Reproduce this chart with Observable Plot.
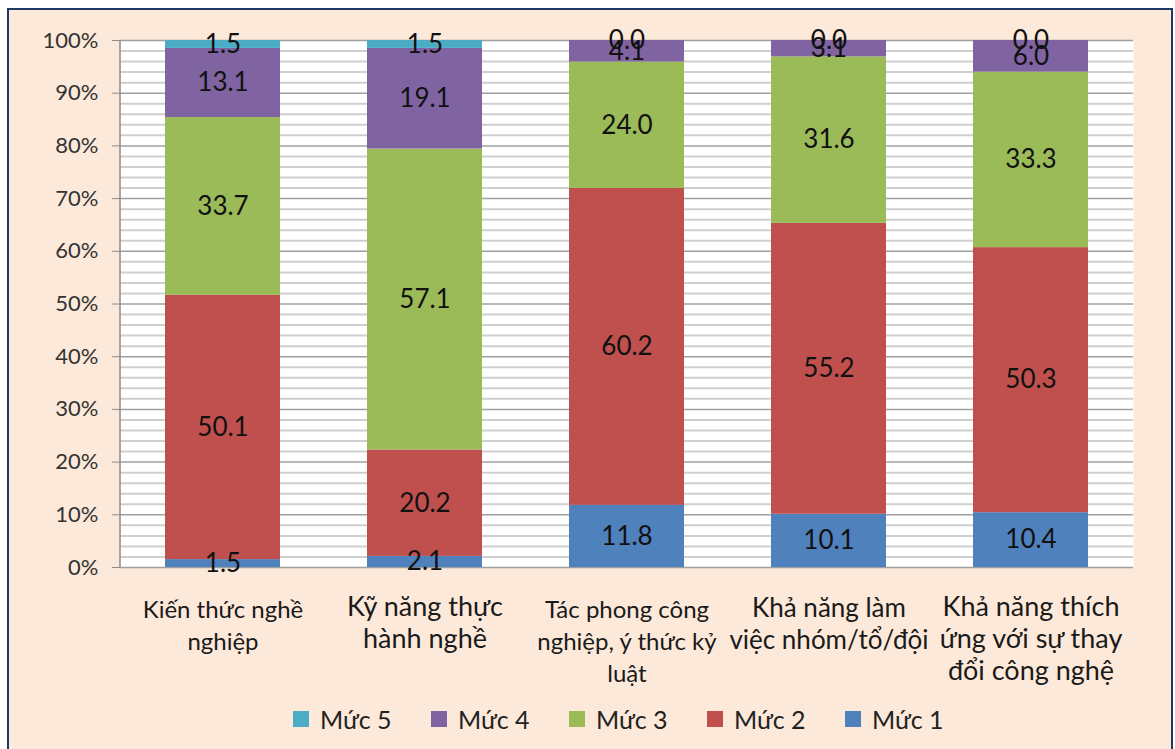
<!DOCTYPE html>
<html>
<head>
<meta charset="utf-8">
<script src="https://cdn.jsdelivr.net/npm/d3@7"></script>
<script src="https://cdn.jsdelivr.net/npm/@observablehq/plot@0.6"></script>
<style>
  html, body { margin: 0; padding: 0; background: #ffffff; width: 1175px; height: 749px; overflow: hidden; }
  #frame { position: absolute; left: 7px; top: 8px; width: 1162px; height: 760px; border: 2px solid #1f3864; background: #fde9d9; }
  #chart { position: absolute; left: 0; top: 0; }
  #legend { position: absolute; left: 284px; top: 694px; display: flex; font-family: Lato, sans-serif; font-size: 25px; color: #222; }
  #legend .item { width: 138px; display: flex; align-items: center; }
  #legend .sw { width: 16px; height: 16px; margin-right: 11px; }
</style>
</head>
<body>
<div id="frame">
  <div id="chart"></div>
  <div id="legend"></div>
</div>
<script>
const categories = [
  "Kiến thức nghề\nnghiệp",
  "Kỹ năng thực\nhành nghề",
  "Tác phong công\nnghiệp, ý thức kỷ\nluật",
  "Khả năng làm\nviệc nhóm/tổ/đội",
  "Khả năng thích\nứng với sự thay\nđổi công nghệ"
];
const levels = ["Mức 1", "Mức 2", "Mức 3", "Mức 4", "Mức 5"];
const muc1 = [1.5, 2.1, 11.8, 10.1, 10.4];
const muc2 = [50.1, 20.2, 60.2, 55.2, 50.3];
const muc3 = [33.7, 57.1, 24.0, 31.6, 33.3];
const muc4 = [13.1, 19.1, 4.1, 3.1, 6.0];
const muc5 = [1.5, 1.5, 0.0, 0.0, 0.0];
const legendOrder = ["Mức 5", "Mức 4", "Mức 3", "Mức 2", "Mức 1"];

// styles
const levelColors = ["#4f81bd", "#c0504d", "#9bbb59", "#8064a2", "#4bacc6"];
const labelSizes = [24, 27, 24, 26, 27];

const series = [muc1, muc2, muc3, muc4, muc5];
const rows = [];
categories.forEach((c, i) => {
  levels.forEach((l, j) => rows.push({category: c, level: l, value: series[j][i]}));
});

const W = 1160, H = 700;
const mL = 111, mT = 30, mR = 36, mB = 143;

const axisLine = (index, scales, values, dims) => {
  const g = d3.create("svg:g");
  g.append("line")
    .attr("x1", dims.marginLeft).attr("x2", dims.marginLeft)
    .attr("y1", dims.marginTop).attr("y2", dims.height - dims.marginBottom)
    .attr("stroke", "#8c8c8c").attr("stroke-width", 1.5);
  return g.node();
};

const categoryLabelMarks = categories.map((c, i) => {
  const s = labelSizes[i];
  return Plot.text([c], {
    x: d => d, frameAnchor: "bottom", lineAnchor: "top",
    dy: 45 - 0.7 * s, fontSize: s, lineHeight: 32 / s, fill: "#1a1a1a"
  });
});

const chart = Plot.plot({
  width: W,
  height: H,
  marginLeft: mL,
  marginTop: mT,
  marginRight: mR,
  marginBottom: mB,
  style: {background: "transparent", fontFamily: "Lato, sans-serif", overflow: "visible"},
  x: {domain: categories, paddingInner: 0.43, paddingOuter: 0.22, axis: null},
  y: {domain: [0, 1], axis: null},
  color: {domain: levels, range: levelColors},
  marks: [
    Plot.frame({fill: "white", stroke: null}),
    Plot.ruleY(d3.range(0, 101, 2).filter(v => v % 10 !== 0).map(v => v / 100), {stroke: "#cfcfcf", strokeWidth: 2}),
    Plot.ruleY(d3.range(0, 101, 10).map(v => v / 100), {stroke: "#a0a0a0", strokeWidth: 1.5}),
    Plot.axisY({
      ticks: d3.range(0, 101, 10).map(v => v / 100),
      tickFormat: d3.format(".0%"),
      tickSize: 8,
      tickPadding: 14,
      fontSize: 22,
      stroke: "#8c8c8c",
      color: "#333",
      label: null
    }),
    axisLine,
    Plot.barY(rows, {x: "category", y: "value", fill: "level", z: "level", order: levels, offset: "normalize"}),
    Plot.text(rows, Plot.stackY({
      x: "category", y: "value", z: "level", order: levels, offset: "normalize",
      text: d => d.value.toFixed(1), fontSize: 26, fill: "#111"
    })),
    ...categoryLabelMarks
  ]
});
document.getElementById("chart").appendChild(chart);

const legend = document.getElementById("legend");
legendOrder.forEach(l => {
  const item = document.createElement("div");
  item.className = "item";
  const sw = document.createElement("span");
  sw.className = "sw";
  sw.style.background = levelColors[levels.indexOf(l)];
  const t = document.createElement("span");
  t.textContent = l;
  item.appendChild(sw);
  item.appendChild(t);
  legend.appendChild(item);
});
</script>
</body>
</html>
